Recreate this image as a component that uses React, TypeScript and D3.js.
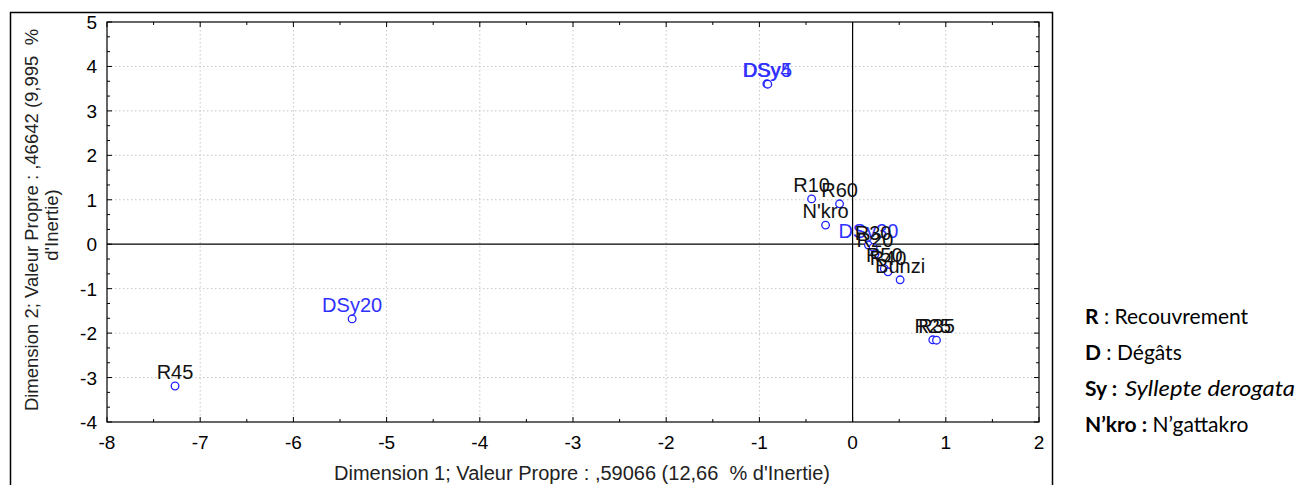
import * as d3 from "d3";

const W = 1297;
const H = 485;
const PLOT = { left: 107, right: 1039, top: 22, bottom: 422 };

// point labels, coordinates (dim 1, dim 2) and group ("D" = damage, blue)
const labels = ["DSy4", "DSy5", "DSy20", "DSy30", "R45", "R10", "R60", "N'kro", "R30", "R20", "R50", "R40", "Bunzi", "R25", "R35"];
const dim1 = [-0.92, -0.91, -5.37, 0.17, -7.27, -0.44, -0.14, -0.29, 0.22, 0.24, 0.34, 0.38, 0.51, 0.86, 0.9];
const dim2 = [3.61, 3.6, -1.68, -0.02, -3.19, 1.02, 0.91, 0.43, -0.07, -0.22, -0.55, -0.62, -0.8, -2.15, -2.16];
const isDamage = [true, true, true, true, false, false, false, false, false, false, false, false, false, false, false];

const xTicks = [-8, -7, -6, -5, -4, -3, -2, -1, 0, 1, 2];
const yTicks = [-4, -3, -2, -1, 0, 1, 2, 3, 4, 5];

const xTitle = "Dimension 1; Valeur Propre : ,59066 (12,66\u00a0\u00a0% d'Inertie)";
const yTitle1 = "Dimension 2; Valeur Propre : ,46642 (9,995\u00a0\u00a0%";
const yTitle2 = "d'Inertie)";

const FONT = "'Liberation Sans', Arial, sans-serif";
const LEGEND_FONT = "Lato, 'Open Sans', sans-serif";

export default function App() {
  const x = d3.scaleLinear().domain([-8, 2]).range([PLOT.left, PLOT.right]);
  const y = d3.scaleLinear().domain([-4, 5]).range([PLOT.bottom, PLOT.top]);

  const xMinor = d3.range(-8, 2.001, 0.5);
  const yMinor = d3.range(0, 27.001, 1).map((i) => -4 + i / 3);

  const points = labels.map((label, i) => ({ label, x: dim1[i], y: dim2[i], damage: isDamage[i] }));

  return (
    <div style={{ position: "absolute", left: 0, top: 0 }}>
      <svg width={W} height={H} viewBox={`0 0 ${W} ${H}`} style={{ display: "block", background: "#fff" }}>
        <rect x={10.5} y={12.5} width={1042} height={490} fill="none" stroke="#000" strokeWidth={1.5} />

        {/* dotted grid */}
        {xTicks.slice(1, -1).filter((t) => t !== 0).map((t) => (
          <line key={`gx${t}`} x1={x(t)} x2={x(t)} y1={PLOT.top} y2={PLOT.bottom} stroke="#c4c4c4" strokeDasharray="1.5 2.5" />
        ))}
        {yTicks.slice(1, -1).filter((t) => t !== 0).map((t) => (
          <line key={`gy${t}`} x1={PLOT.left} x2={PLOT.right} y1={y(t)} y2={y(t)} stroke="#c4c4c4" strokeDasharray="1.5 2.5" />
        ))}

        {/* zero lines */}
        <line x1={x(0)} x2={x(0)} y1={PLOT.top} y2={PLOT.bottom} stroke="#000" strokeWidth={1.2} />
        <line x1={PLOT.left} x2={PLOT.right} y1={y(0)} y2={y(0)} stroke="#000" strokeWidth={1.2} />

        {/* inward ticks on all four sides */}
        {xMinor.map((t) => {
          const len = Number.isInteger(t) ? 5 : 3;
          return (
            <g key={`tx${t}`} stroke="#000">
              <line x1={x(t)} x2={x(t)} y1={PLOT.bottom} y2={PLOT.bottom - len} />
              <line x1={x(t)} x2={x(t)} y1={PLOT.top} y2={PLOT.top + len} />
            </g>
          );
        })}
        {yMinor.map((t, i) => {
          const len = i % 3 === 0 ? 5 : 3;
          return (
            <g key={`ty${i}`} stroke="#000">
              <line x1={PLOT.left} x2={PLOT.left + len} y1={y(t)} y2={y(t)} />
              <line x1={PLOT.right} x2={PLOT.right - len} y1={y(t)} y2={y(t)} />
            </g>
          );
        })}

        <rect x={PLOT.left} y={PLOT.top} width={PLOT.right - PLOT.left} height={PLOT.bottom - PLOT.top} fill="none" stroke="#000" strokeWidth={1.2} />

        {/* tick labels */}
        {xTicks.map((t) => (
          <text key={`lx${t}`} x={x(t)} y={449} textAnchor="middle" fontFamily={FONT} fontSize={19} fill="#000">
            {t}
          </text>
        ))}
        {yTicks.map((t) => (
          <text key={`ly${t}`} x={97} y={y(t) + 7} textAnchor="end" fontFamily={FONT} fontSize={19} fill="#000">
            {t}
          </text>
        ))}

        {/* axis titles */}
        <text x={582} y={480} textAnchor="middle" fontFamily={FONT} fontSize={20} fill="#222">
          {xTitle}
        </text>
        <text transform={`translate(38 ${220}) rotate(-90)`} textAnchor="middle" fontFamily={FONT} fontSize={18.5} fill="#222">
          {yTitle1}
        </text>
        <text transform={`translate(58 ${225}) rotate(-90)`} textAnchor="middle" fontFamily={FONT} fontSize={18.5} fill="#222">
          {yTitle2}
        </text>

        {/* points and labels */}
        {points.map((p) => (
          <g key={p.label}>
            <circle cx={x(p.x)} cy={y(p.y)} r={3.8} fill="#fff" stroke="#2020ff" strokeWidth={1.3} />
            <text x={x(p.x)} y={y(p.y) - 7} textAnchor="middle" fontFamily={FONT} fontSize={20} fill={p.damage ? "#3030ff" : "#111"}>
              {p.label}
            </text>
          </g>
        ))}

        {/* legend */}
        <g fontFamily={LEGEND_FONT} fontSize={21} fill="#000">
          <text x={1085} y={324}>
            <tspan fontWeight="bold">R</tspan> : Recouvrement
          </text>
          <text x={1085} y={360}>
            <tspan fontWeight="bold">D</tspan> : Dégâts
          </text>
          <text x={1085} y={396} fontWeight="bold">
            Sy :
          </text>
          <text x={1125} y={396} fontStyle="italic" textLength={170} lengthAdjust="spacingAndGlyphs">
            Syllepte derogata
          </text>
          <text x={1085} y={432}>
            <tspan fontWeight="bold">N’kro :</tspan> N’gattakro
          </text>
        </g>
      </svg>
    </div>
  );
}
